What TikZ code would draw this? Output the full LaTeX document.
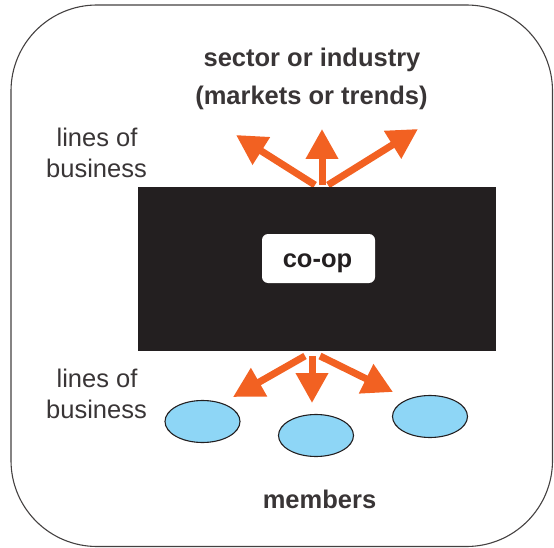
\documentclass[tikz,border=0pt]{standalone}
\usepackage{fontspec}
\setmainfont{Liberation Sans}
\usetikzlibrary{arrows.meta,shapes.geometric}
\definecolor{coopblack}{HTML}{231F20}
\definecolor{arrorange}{HTML}{F26122}
\definecolor{memblue}{HTML}{8ED6F6}
\tikzset{
  frame/.style={draw=coopblack!85, line width=1.1pt, rounded corners=86pt},
  bigbox/.style={fill=coopblack, draw=none},
  coopbox/.style={fill=white, draw=none, rounded corners=6pt, minimum width=113pt, minimum height=49pt, inner sep=0pt},
  lbl/.style={font=\fontsize{25.5}{30}\selectfont, text=coopblack!90, inner sep=0pt, anchor=base},
  blbl/.style={lbl, font=\fontsize{25.5}{30}\selectfont\bfseries},
  member/.style={ellipse, draw=coopblack, line width=1.1pt, fill=memblue, minimum width=75pt, minimum height=42pt, inner sep=0pt},
  arr/.style={draw=arrorange, line width=7pt, -{Triangle[width=31pt,length=30pt]}, arrorange},
}
\begin{document}
\begin{tikzpicture}[x=1pt,y=-1pt]
\useasboundingbox (0,0) rectangle (554,548);
\draw[frame] (11,5) rectangle (552.5,546.5);
% text
\node[blbl] (sector) at (312,67) {sector or industry};
\node[blbl] (markets) at (311.5,105) {(markets or trends)};
\node[lbl] (lob1a) at (97,147) {lines of};
\node[lbl] (lob1b) at (96.5,178) {business};
\node[lbl] (lob2a) at (97,387) {lines of};
\node[lbl] (lob2b) at (96.5,418) {business};
\node[blbl] (members) at (319.5,508) {members};
% arrows top
\coordinate (t1s) at (315,185);
\coordinate (t1e) at (236,135);
\coordinate (t2s) at (322,185);
\coordinate (t2e) at (322,129);
\coordinate (t3s) at (328,185);
\coordinate (t3e) at (418,129);
\draw[arr] (t1s) -- (t1e);
\draw[arr] (t2s) -- (t2e);
\draw[arr] (t3s) -- (t3e);
% big box
\node[bigbox, minimum width=358pt, minimum height=164pt, inner sep=0pt] (business) at (316.5,269) {};
\node[coopbox] (coopframe) at (318.5,258.5) {};
\node[blbl, text=coopblack] (coop) at (317.5,267) {co-op};
% members
\node[member] (m1) at (202.5,421.5) {};
\node[member] (m2) at (316,435.5) {};
\node[member] (m3) at (430,416.5) {};
% arrows bottom
\coordinate (b1s) at (305,356);
\coordinate (b1e) at (233,397);
\coordinate (b2s) at (312,356);
\coordinate (b2e) at (312,403);
\coordinate (b3s) at (320,356);
\coordinate (b3e) at (393,392);
\draw[arr] (b1s) -- (b1e);
\draw[arr] (b2s) -- (b2e);
\draw[arr] (b3s) -- (b3e);
\end{tikzpicture}
\end{document}
